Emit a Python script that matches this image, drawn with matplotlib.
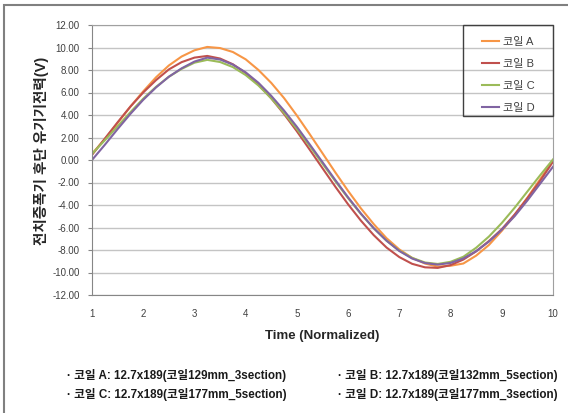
import matplotlib.pyplot as plt
from matplotlib.patches import Rectangle

plt.rcParams['font.family'] = ['Liberation Sans', 'Noto Sans CJK KR', 'DejaVu Sans']

# time axis (normalized), read every 0.25
t = [1.0, 1.25, 1.5, 1.75, 2.0, 2.25, 2.5, 2.75, 3.0, 3.25,
     3.5, 3.75, 4.0, 4.25, 4.5, 4.75, 5.0, 5.25, 5.5, 5.75,
     6.0, 6.25, 6.5, 6.75, 7.0, 7.25, 7.5, 7.75, 8.0, 8.25,
     8.5, 8.75, 9.0, 9.25, 9.5, 9.75, 10.0]

coil_a = [0.55, 1.85, 3.3, 4.75, 6.1, 7.35, 8.4, 9.2, 9.75, 10.05,
          9.95, 9.6, 8.95, 8.0, 6.85, 5.5, 3.95, 2.3, 0.6, -1.1,
          -2.75, -4.3, -5.7, -6.95, -7.95, -8.7, -9.2, -9.48, -9.4, -9.2,
          -8.5, -7.55, -6.3, -4.9, -3.35, -1.7, -0.05]
coil_b = [0.45, 1.9, 3.35, 4.75, 6.0, 7.1, 8.05, 8.7, 9.1, 9.25,
          9.02, 8.51, 7.74, 6.71, 5.48, 4.08, 2.55, 0.92, -0.73, -2.37,
          -3.94, -5.39, -6.68, -7.78, -8.63, -9.23, -9.54, -9.59, -9.34, -8.85,
          -8.12, -7.2, -6.15, -4.85, -3.4, -1.85, -0.15]
coil_c = [0.55, 1.75, 3.0, 4.25, 5.45, 6.5, 7.4, 8.1, 8.65, 8.9,
          8.71, 8.26, 7.55, 6.62, 5.48, 4.18, 2.75, 1.24, -0.33, -1.88,
          -3.39, -4.8, -6.07, -7.17, -8.06, -8.7, -9.11, -9.24, -9.05, -8.6,
          -7.8, -6.8, -5.6, -4.25, -2.8, -1.35, 0.05]
coil_d = [0.0, 1.35, 2.75, 4.1, 5.35, 6.45, 7.4, 8.15, 8.75, 9.1,
          8.93, 8.48, 7.79, 6.86, 5.7, 4.39, 2.95, 1.39, -0.19, -1.78,
          -3.32, -4.76, -6.06, -7.17, -8.09, -8.76, -9.16, -9.3, -9.15, -8.75,
          -8.1, -7.25, -6.2, -5.0, -3.6, -2.1, -0.6]

series = [coil_a, coil_b, coil_c, coil_d]
names = ['코일 A', '코일 B', '코일 C', '코일 D']
colors = ['#F79646', '#C0504D', '#9BBB59', '#8064A2']

notes_left = ['· 코일 A: 12.7x189(코일129mm_3section)',
              '· 코일 C: 12.7x189(코일177mm_5section)']
notes_right = ['· 코일 B: 12.7x189(코일132mm_5section)',
               '· 코일 D: 12.7x189(코일177mm_3section)']

W, H = 568, 413
fig = plt.figure(figsize=(W / 100, H / 100), dpi=100)
ax = fig.add_axes([92 / W, 1 - 295 / H, (553 - 92) / W, (295 - 25) / H])

for ys, name, c in zip(series, names, colors):
    ax.plot(t, ys, color=c, lw=1.5, label=name)

ax.set_xlim(1, 10)
ax.set_ylim(-12, 12)
ax.set_xticks(range(1, 11))
ax.set_yticks(range(-12, 13, 2))
ax.set_yticklabels([f'{v:.2f}' for v in range(-12, 13, 2)])
ax.grid(axis='y', color='#c4c4c4', lw=1)
ax.set_axisbelow(True)
for s in ax.spines.values():
    s.set_color('#a0a0a0')
ax.spines['left'].set_color('#868686')
ax.spines['bottom'].set_color('#868686')
ax.tick_params(axis='y', length=3, color='#868686', labelsize=7,
               labelcolor='#404040', pad=6)
ax.tick_params(axis='x', length=0, labelsize=7, labelcolor='#404040', pad=10)

ax.set_xlabel('Time (Normalized)', fontsize=9.5, fontweight='bold',
              color='#262626', labelpad=8)
fig.text(42 / W, 1 - 151 / H, '전치증폭기 후단 유기기전력(V)', rotation=90,
         ha='center', va='center', fontsize=10.5, fontweight='bold',
         color='#262626')

# legend: entries without frame, box drawn separately
leg = ax.legend(loc='upper left', bbox_to_anchor=(0.846, 0.957),
                borderaxespad=0, borderpad=0, frameon=False, fontsize=8,
                handlelength=1.5, handletextpad=0.4, labelspacing=1.1,
                labelcolor='#404040')
ax.add_patch(Rectangle((0.8048, 0.663), 0.1952, 0.337, transform=ax.transAxes,
                       fill=False, edgecolor='#404040', lw=1, clip_on=False,
                       zorder=5))

for i, (l, r) in enumerate(zip(notes_left, notes_right)):
    y = 1 - (375 + 19.5 * i) / H
    fig.text(67 / W, y, l, fontsize=8.4, fontweight='bold', va='center',
             color='#1a1a1a')
    fig.text(338 / W, y, r, fontsize=8.4, fontweight='bold', va='center',
             color='#1a1a1a')

# outer chart frame
fig.patches.append(Rectangle((4 / W, -0.05), 1.05, 1 - 5 / H + 0.05,
                             transform=fig.transFigure, fill=False,
                             edgecolor='#808080', lw=1.5))

fig.savefig('out.png', dpi=100)
